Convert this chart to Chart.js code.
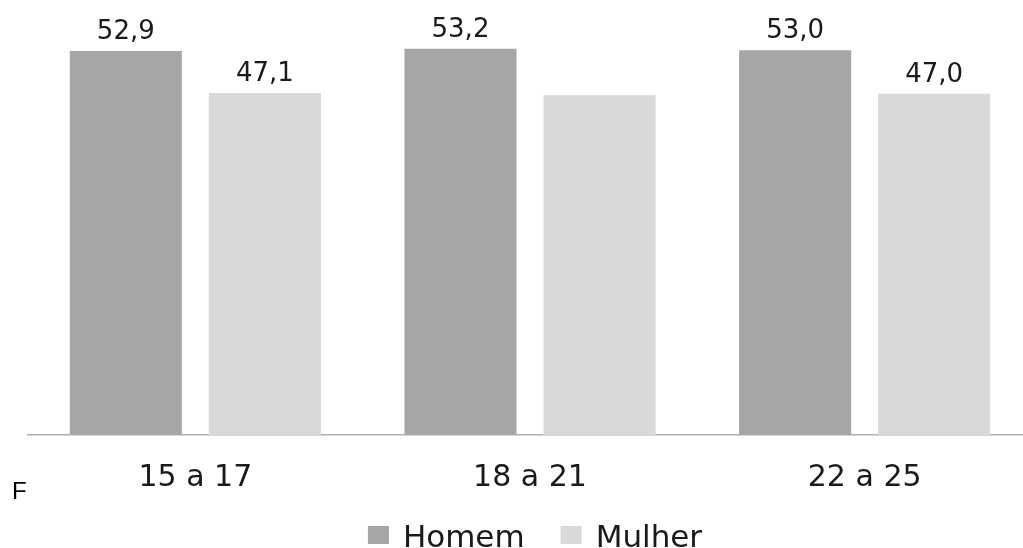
<!DOCTYPE html>
<html>
<head>
<meta charset="utf-8">
<title>Homem e Mulher por faixa etária</title>
<script src="https://cdn.jsdelivr.net/npm/chart.js@4.4.1/dist/chart.umd.min.js"></script>
<style>
  html, body { margin: 0; padding: 0; background: #ffffff; overflow: hidden; }
  #wrap { position: relative; width: 1032px; height: 548px; }
</style>
</head>
<body>
<div id="wrap"><canvas id="chart"></canvas></div>
<script>
// Faixas etárias e percentuais por sexo
const categories = ['15 a 17', '18 a 21', '22 a 25'];
const homem = [52.9, 53.2, 53.0];
const mulher = [47.1, 46.8, 47.0];
// Rótulos de valor exibidos (false = sem rótulo)
const homemShowLabel = [true, true, true];
const mulherShowLabel = [true, false, true];

const seriesNames = ['Homem', 'Mulher'];
const seriesColors = ['#a6a6a6', '#d9d9d9'];
const textColor = '#1a1a1a';
const fontFamily = '"DejaVu Sans", sans-serif';

const fmt = v => v.toFixed(1).replace('.', ',');

// Valores acima das barras
const valueLabels = {
  id: 'valueLabels',
  afterDatasetsDraw(chart) {
    const ctx = chart.ctx;
    const shows = [homemShowLabel, mulherShowLabel];
    ctx.save();
    ctx.font = '26px ' + fontFamily;
    ctx.fillStyle = textColor;
    ctx.textAlign = 'center';
    ctx.textBaseline = 'alphabetic';
    chart.data.datasets.forEach((ds, di) => {
      const meta = chart.getDatasetMeta(di);
      meta.data.forEach((bar, i) => {
        if (!shows[di][i]) return;
        ctx.fillText(fmt(ds.data[i]), bar.x, bar.y - 12);
      });
    });
    ctx.restore();
  }
};

// Legenda inferior e nota "F"
const bottomNotes = {
  id: 'bottomNotes',
  afterDraw(chart) {
    const ctx = chart.ctx;
    const area = chart.chartArea;
    ctx.save();
    ctx.font = '31px ' + fontFamily;
    const boxW = 21, boxH = 18, gap = 14, between = 36;
    const items = chart.data.datasets.map(ds => ({
      text: ds.label, color: ds.backgroundColor,
      w: boxW + gap + ctx.measureText(ds.label).width
    }));
    const total = items.reduce((s, it) => s + it.w, 0) + between * (items.length - 1);
    let x = (area.left + area.right) / 2 + 5 - total / 2;
    const baseY = 547;
    items.forEach(it => {
      ctx.fillStyle = it.color;
      ctx.fillRect(x, baseY - 21, boxW, boxH);
      ctx.fillStyle = textColor;
      ctx.textBaseline = 'alphabetic';
      ctx.textAlign = 'left';
      ctx.fillText(it.text, x + boxW + gap, baseY);
      x += it.w + between;
    });
    ctx.font = '24px "Liberation Sans", Arial, sans-serif';
    ctx.fillStyle = '#000000';
    ctx.fillText('F', 12, 499);
    ctx.restore();
  }
};

new Chart(document.getElementById('chart'), {
  type: 'bar',
  data: {
    labels: categories,
    datasets: [
      { label: seriesNames[0], data: homem, backgroundColor: seriesColors[0] },
      { label: seriesNames[1], data: mulher, backgroundColor: seriesColors[1] }
    ]
  },
  options: {
    responsive: true,
    maintainAspectRatio: false,
    animation: false,
    layout: { padding: { left: 28, right: 0, top: 14, bottom: 0 } },
    datasets: {
      bar: { categoryPercentage: 0.831, barPercentage: 0.806 }
    },
    plugins: {
      legend: { display: false },
      tooltip: { enabled: false }
    },
    scales: {
      x: {
        grid: { display: false, drawTicks: false, tickLength: 0 },
        border: { display: true, color: '#b0b0b0', width: 1.5 },
        ticks: { color: textColor, font: { family: fontFamily, size: 30 }, padding: 25 },
        afterFit(scale) { scale.height = 113; }
      },
      y: {
        display: false,
        min: 0,
        max: 58
      }
    }
  },
  plugins: [valueLabels, bottomNotes]
});
</script>
</body>
</html>
